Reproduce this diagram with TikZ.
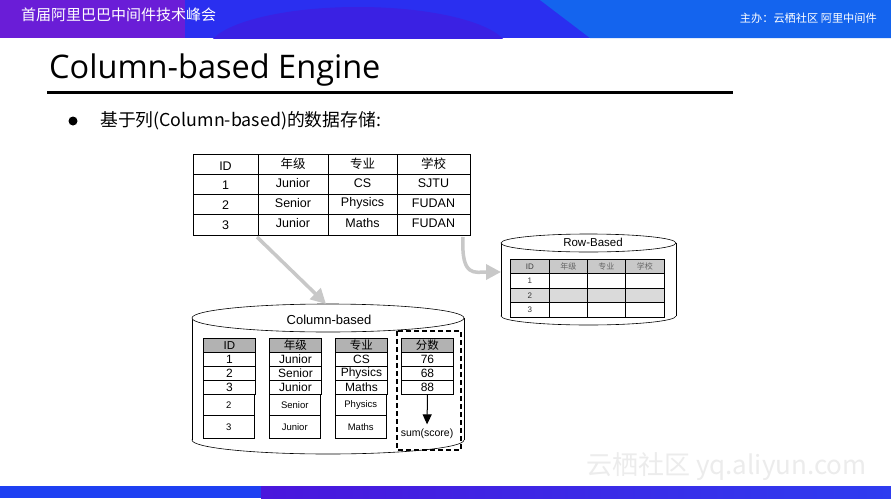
\documentclass[tikz,border=0pt]{standalone}
\usepackage{fontspec}
\setmainfont{Liberation Sans}
\newfontfamily\cjk{Noto Sans CJK SC}
\newfontfamily\titlefont{Open Sans}
\usetikzlibrary{arrows.meta,calc}
\definecolor{hpurple}{HTML}{6A1DD7}
\definecolor{hblue}{HTML}{2A2FF0}
\definecolor{hbulge}{HTML}{3A21E3}
\definecolor{hlight}{HTML}{1464EE}
\definecolor{bblue}{HTML}{1E40F2}
\definecolor{bpurple}{HTML}{4A16DC}
\definecolor{bright}{HTML}{2E3CF0}
\definecolor{garc}{HTML}{C8C8C8}
\definecolor{cellgray}{HTML}{B2B2B2}
\definecolor{rbgray}{HTML}{C9C9C9}
\definecolor{rblight}{HTML}{DADADA}
\definecolor{wm}{HTML}{ECECEC}
\tikzset{
  garrow/.style={draw=garc, line width=3.5pt, -{Triangle[length=15pt,width=15pt]}},
  tt/.style={font=\fontsize{12.5}{13}\selectfont, inner sep=0pt},
  cellhd/.style={draw, line width=0.8pt, fill=cellgray, minimum width=52pt, minimum height=14pt, inner sep=0pt, anchor=north west, font=\fontsize{11.5}{12}\selectfont},
  cellov/.style={draw, line width=0.9pt, fill=white, minimum width=52pt, minimum height=14pt, inner sep=0pt, anchor=north west, font=\fontsize{12}{12}\selectfont},
  celllo/.style={draw, line width=0.5pt, fill=white, minimum width=51pt, inner sep=0pt, anchor=north west, font=\fontsize{9.5}{10}\selectfont},
  rbcell/.style={draw, line width=0.6pt, minimum height=14.5pt, inner sep=0pt, anchor=north west, text=black!70, font=\fontsize{8}{8}\selectfont},
  cyl/.style={draw, line width=0.6pt},
}
\begin{document}
\begin{tikzpicture}[x=1pt,y=-1pt]
\useasboundingbox (0,0) rectangle (891,498);
\fill[white] (0,0) rectangle (891,498);
% header band
\fill[hblue] (0,0) rectangle (891,38);
\begin{scope}
\clip (0,0) rectangle (891,38);
\fill[hbulge] (358,50) ellipse [x radius=150, y radius=43];
\end{scope}
\fill[hpurple] (0,0) rectangle (185,38);
\fill[hlight] (540,0) -- (891,0) -- (891,38) -- (590,38) -- cycle;
\node[anchor=west, text=white, font=\cjk\fontsize{15}{15}\selectfont, inner sep=0pt] (hdrl) at (21,15) {首届阿里巴巴中间件技术峰会};
\node[anchor=east, text=white, font=\cjk\fontsize{11.2}{12}\selectfont, inner sep=0pt] (hdrr) at (877,18) {主办：云栖社区 阿里中间件};
% bottom band
\shade[left color=bpurple, right color=bright] (261,486) rectangle (891,498);
\fill[bblue] (0,486) rectangle (261,498);
% title
\node[anchor=base west, font=\titlefont\fontsize{32.5}{33}\selectfont, inner sep=0pt] (title) at (49,78) {Column-based Engine};
\draw[line width=3pt] (47,92) -- (733,92);
\fill (73,121) circle (4.5);
\node[anchor=west, font=\cjk\fontsize{17.8}{18}\selectfont, inner sep=0pt] (bullet) at (100,121) {基于列(Column-based)的数据存储:};
% top table
\node[draw, line width=0.8pt, minimum width=277pt, minimum height=81pt, inner sep=0pt, anchor=north west] (toptab) at (193,154) {};
\draw[line width=0.8pt] (258,154) -- (258,235) (328,154) -- (328,235) (397,154) -- (397,235)
  (193,174) -- (470,174) (193,194) -- (470,194) (193,214) -- (470,214);
\foreach \y/\a/\b/\c/\d [count=\i] in {165/ID/{\cjk 年级}/{\cjk 专业}/{\cjk 学校}, 184.5/1/Junior/CS/SJTU, 204.5/2/Senior/Physics/FUDAN, 224.5/3/Junior/Maths/FUDAN}{
  \node[tt] (t\i a) at (225.5,\y+1) {\a};
  \node[tt] (t\i b) at (293,\y-1) {\b};
  \node[tt] (t\i c) at (362.5,\y-1) {\c};
  \node[tt] (t\i d) at (433.5,\y-1) {\d};
}
\coordinate (a1s) at (257,237);
\coordinate (a2s) at (463,237);
% row-based cylinder
\fill[white] (588.5,316) ellipse [x radius=87.5, y radius=9];
\draw[cyl] (588.5,316) ellipse [x radius=87.5, y radius=9];
\fill[white] (501,243) rectangle (676,316);
\draw[cyl] (501,243) -- (501,316) (676,243) -- (676,316);
\draw[cyl, fill=white] (588.5,243) ellipse [x radius=87.5, y radius=9];
\node[font=\fontsize{11.5}{12}\selectfont, inner sep=0pt] (rblabel) at (593,242) {Row-Based};
\coordinate (rbleft) at (501,272);
\foreach \yy/\h/\f [count=\j] in {259/14/rbgray, 273/15/white, 288/14/rblight, 302/15/white}{
  \node[rbcell, fill=\f, minimum width=39pt, minimum height=\h pt] (rb\j a) at (510,\yy) {};
  \node[rbcell, fill=\f, minimum width=38pt, minimum height=\h pt] (rb\j b) at (549,\yy) {};
  \node[rbcell, fill=\f, minimum width=38pt, minimum height=\h pt] (rb\j c) at (587,\yy) {};
  \node[rbcell, fill=\f, minimum width=39pt, minimum height=\h pt] (rb\j d) at (625,\yy) {};
}
\node[text=black!75, font=\fontsize{8}{8}\selectfont] at (rb1a) {ID};
\node[text=black!60, font=\cjk\fontsize{8}{8}\selectfont] at (rb1b) {年级};
\node[text=black!60, font=\cjk\fontsize{8}{8}\selectfont] at (rb1c) {专业};
\node[text=black!60, font=\cjk\fontsize{8}{8}\selectfont] at (rb1d) {学校};
\node[text=black!80, font=\fontsize{8}{8}\selectfont] at (rb2a) {1};
\node[text=black!80, font=\fontsize{8}{8}\selectfont] at (rb3a) {2};
\node[text=black!80, font=\fontsize{8}{8}\selectfont] at (rb4a) {3};
% column-based cylinder
\draw[cyl] (328,440) ellipse [x radius=136, y radius=14];
\fill[white] (192,318) rectangle (464,440);
\draw[cyl] (192,318) -- (192,440) (464,318) -- (464,440);
\draw[cyl, fill=white] (328,318) ellipse [x radius=136, y radius=14];
\node[font=\fontsize{13}{13}\selectfont, inner sep=0pt] (cblabel) at (329,320) {Column-based};
\coordinate (cbtop) at (326,304);
% column cells
\foreach \x/\h/\p/\q/\s/\u/\v [count=\i] in {203/ID/1/2/3/2/3, 269/{\cjk 年级}/Junior/Senior/Junior/Senior/Junior, 335/{\cjk 专业}/CS/Physics/Maths/Physics/Maths}{
  \node[celllo, minimum height=21pt] (c\i d) at (\x,394) {\u};
  \node[celllo, minimum height=23pt] (c\i e) at (\x,415) {\v};
  \node[cellhd] (c\i h) at (\x,338) {\h};
  \node[cellov] (c\i a) at (\x,352) {\p};
  \node[cellov] (c\i b) at (\x,366) {\q};
  \node[cellov] (c\i c) at (\x,380) {\s};
}
\node[cellhd] (fh) at (401,338) {\cjk 分数};
\node[cellov] (fa) at (401,352) {76};
\node[cellov] (fb) at (401,366) {68};
\node[cellov] (fc) at (401,380) {88};
\node[font=\fontsize{10.5}{11}\selectfont, inner sep=1pt] (sum) at (427,433.5) {sum(score)};
\draw[line width=1pt, -{Triangle[length=10pt,width=9pt]}, shorten >=3pt] (fc.south) -- (sum.north);
\draw[dashed, line width=1.6pt, dash pattern=on 5pt off 3pt] (397,331) rectangle (461,450);
% gray arrows
\draw[garrow] (a1s) -- (cbtop);
\draw[garrow] (a2s) .. controls (461,278) and (475,272) .. (rbleft);
% watermark
\node[anchor=west, text=wm, font=\cjk\fontsize{26}{26}\selectfont, inner sep=0pt] (wmk) at (586,467) {云栖社区 yq.aliyun.com};
\end{tikzpicture}
\end{document}
